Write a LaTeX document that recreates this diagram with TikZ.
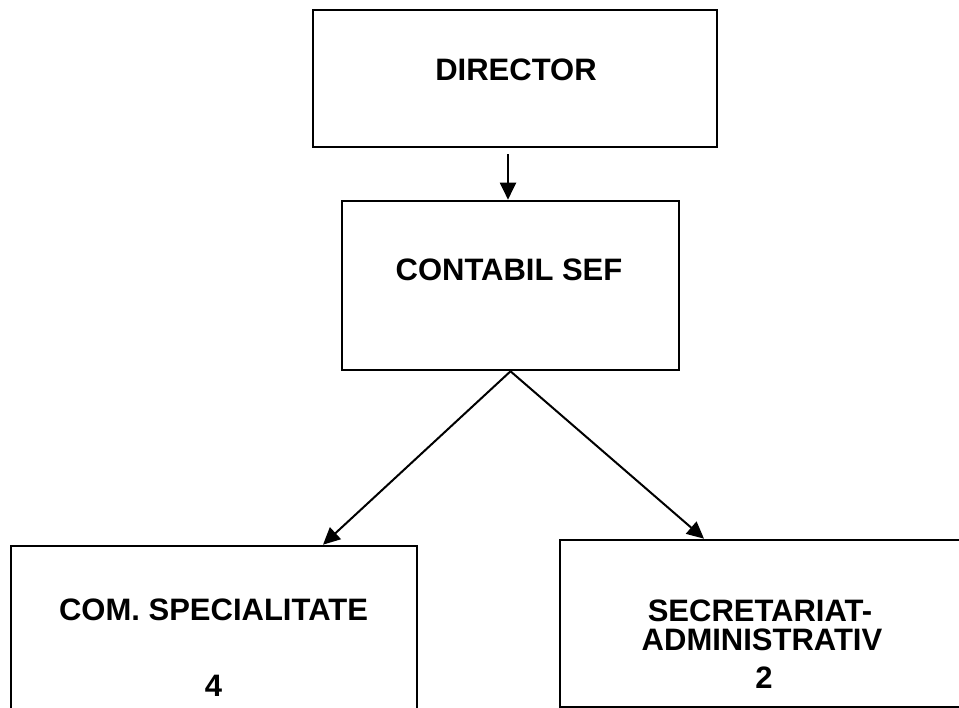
\documentclass[tikz,border=0pt]{standalone}
\usepackage{fontspec}
\setmainfont{Liberation Sans}
\usetikzlibrary{arrows.meta}
\begin{document}
\begin{tikzpicture}[x=1pt,y=-1pt,
  box/.style={draw=black, line width=2.6pt, rectangle, inner sep=0pt},
  lbl/.style={font=\fontsize{31}{29}\selectfont\bfseries, inner sep=0pt, anchor=base, align=center},
  arr/.style={draw=black, line width=2pt, -{Triangle[length=17pt,width=16pt]}}]
\useasboundingbox (0,0) rectangle (959,708);
\clip (0,0) rectangle (959,708);
\fill[white] (0,0) rectangle (959,708);
% boxes
\node[box, minimum width=404pt, minimum height=137pt] (dir) at (515,78.5) {};
\node[box, minimum width=337pt, minimum height=169pt] (cs) at (510.5,285.5) {};
\node[box, minimum width=406pt, minimum height=200pt] (com) at (214,646) {};
\node[box, minimum width=404pt, minimum height=167pt] (sec) at (762,623.5) {};
% texts
\node[lbl] (tdir) at (516,81) {DIRECTOR};
\node[lbl] (tcs) at (509,281) {CONTABIL SEF};
\node[lbl] (tcom) at (213.5,620) {COM. SPECIALITATE};
\node[lbl] (tcomn) at (213.5,696.5) {4};
\node[lbl] (tsec1) at (760,621.5) {SECRETARIAT-};
\node[lbl] (tsec2) at (762,650.5) {ADMINISTRATIV};
\node[lbl] (tsecn) at (764,688) {2};
% connectors
\coordinate (a1) at ([xshift=-7pt,yshift=-6pt]dir.south);
\draw[arr] (a1) -- (a1 |- cs.north);
\draw[arr] (cs.south) -- ([xshift=109pt]com.north);
\draw[arr] (cs.south) -- ([xshift=-58pt]sec.north);
\end{tikzpicture}
\end{document}
